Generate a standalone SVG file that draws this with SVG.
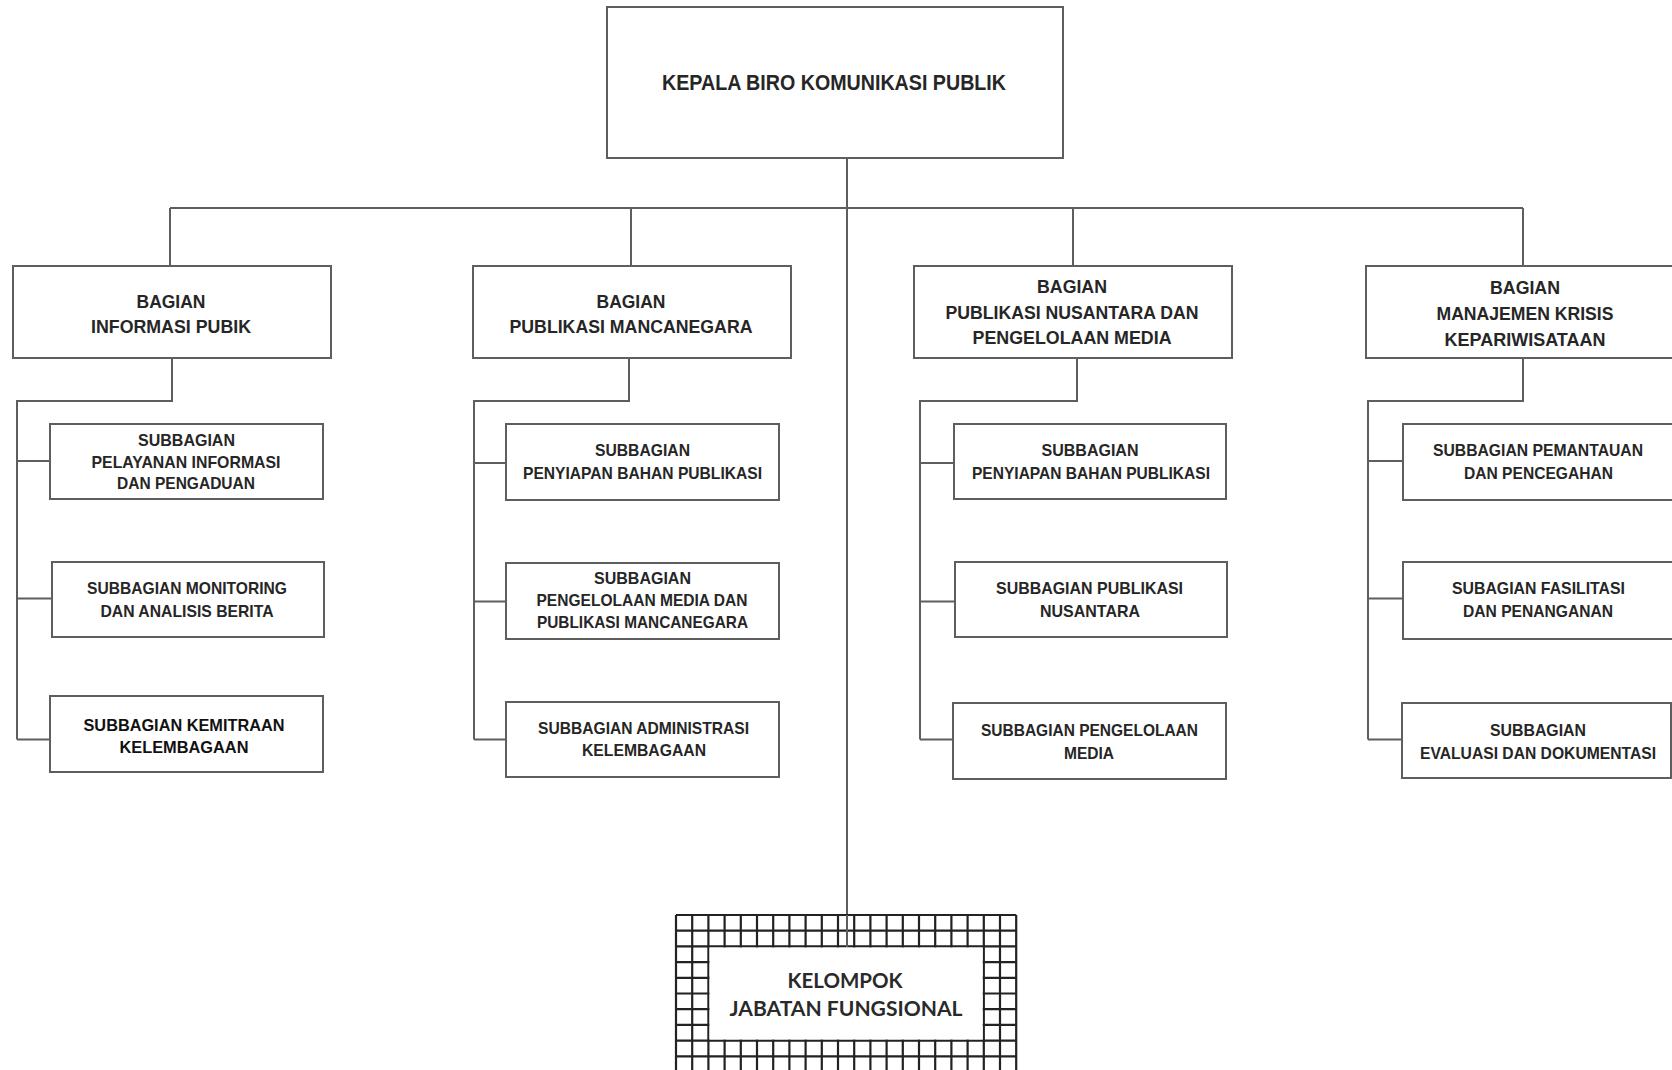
<svg xmlns="http://www.w3.org/2000/svg" width="1672" height="1070" viewBox="0 0 1672 1070">
  <style>
    .box { fill: #ffffff; stroke: #5e5e5e; stroke-width: 2; }
    .wire { fill: none; stroke: #5e5e5e; stroke-width: 2; }
    .grid { fill: none; stroke: #222222; stroke-width: 2.2; }
    .t { font-family: "Liberation Sans", Arial, sans-serif; font-weight: bold; fill: #262626; text-anchor: middle; }
    .title { font-size: 22px; }
    .head { font-size: 18.5px; }
    .sub { font-size: 17px; }
    .plain { font-size: 16.5px; fill: #111111; }
    .fg { font-family: Lato, "Open Sans", sans-serif; font-weight: bold; font-size: 20px; fill: #2a2a2a; text-anchor: middle; }
  </style>
  <rect width="1672" height="1070" fill="#ffffff"/>

  <!-- connectors -->
  <g id="connectors">
    <path class="wire" d="M847 158V947"/>
    <path class="wire" d="M170 208H1523M170 208V266M631 208V266M1073 208V266M1523 208V266"/>
    <path class="wire" d="M172 358V401H17V739.5M17 461H50M17 598.5H52M17 739.5H50"/>
    <path class="wire" d="M629 358V401H474V739.5M474 463H506M474 601.5H506M474 739.5H506"/>
    <path class="wire" d="M1077 358V401H920V739.5M920 463H954M920 601.5H955M920 739.5H953"/>
    <path class="wire" d="M1523 358V401H1368V739.5M1368 461H1403M1368 598.5H1403M1368 739.5H1402"/>
  </g>

  <!-- head of bureau -->
  <g id="kepala">
    <rect class="box" x="607" y="7" width="456" height="151"/>
    <text class="t title" x="834" y="90" textLength="344" lengthAdjust="spacingAndGlyphs">KEPALA BIRO KOMUNIKASI PUBLIK</text>
  </g>

  <!-- divisions -->
  <g id="bagian-informasi">
    <rect class="box" x="13" y="266" width="318" height="92"/>
    <text class="t head" x="171" y="307.5" textLength="69" lengthAdjust="spacingAndGlyphs">BAGIAN</text>
    <text class="t head" x="171" y="333" textLength="160" lengthAdjust="spacingAndGlyphs">INFORMASI PUBIK</text>
  </g>
  <g id="bagian-mancanegara">
    <rect class="box" x="473" y="266" width="318" height="92"/>
    <text class="t head" x="631" y="307.5" textLength="69" lengthAdjust="spacingAndGlyphs">BAGIAN</text>
    <text class="t head" x="631" y="333" textLength="243" lengthAdjust="spacingAndGlyphs">PUBLIKASI MANCANEGARA</text>
  </g>
  <g id="bagian-nusantara">
    <rect class="box" x="914" y="266" width="318" height="92"/>
    <text class="t head" x="1072" y="293" textLength="70" lengthAdjust="spacingAndGlyphs">BAGIAN</text>
    <text class="t head" x="1072" y="319" textLength="253" lengthAdjust="spacingAndGlyphs">PUBLIKASI NUSANTARA DAN</text>
    <text class="t head" x="1072" y="344" textLength="199" lengthAdjust="spacingAndGlyphs">PENGELOLAAN MEDIA</text>
  </g>
  <g id="bagian-krisis">
    <rect class="box" x="1366" y="266" width="320" height="92"/>
    <text class="t head" x="1525" y="294" textLength="70" lengthAdjust="spacingAndGlyphs">BAGIAN</text>
    <text class="t head" x="1525" y="320" textLength="177" lengthAdjust="spacingAndGlyphs">MANAJEMEN KRISIS</text>
    <text class="t head" x="1525" y="346" textLength="161" lengthAdjust="spacingAndGlyphs">KEPARIWISATAAN</text>
  </g>

  <!-- subdivisions: column 1 -->
  <g id="sub-pelayanan">
    <rect class="box" x="50" y="424" width="273" height="75"/>
    <text class="t sub" x="186.5" y="445.5" textLength="97" lengthAdjust="spacingAndGlyphs">SUBBAGIAN</text>
    <text class="t sub" x="186" y="468" textLength="189" lengthAdjust="spacingAndGlyphs">PELAYANAN INFORMASI</text>
    <text class="t sub" x="186" y="489" textLength="138" lengthAdjust="spacingAndGlyphs">DAN PENGADUAN</text>
  </g>
  <g id="sub-monitoring">
    <rect class="box" x="52" y="562" width="272" height="75"/>
    <text class="t sub" x="187" y="593.5" textLength="200" lengthAdjust="spacingAndGlyphs">SUBBAGIAN MONITORING</text>
    <text class="t sub" x="187" y="617" textLength="173" lengthAdjust="spacingAndGlyphs">DAN ANALISIS BERITA</text>
  </g>
  <g id="sub-kemitraan">
    <rect class="box" x="50" y="696" width="273" height="76"/>
    <text class="t plain" x="184" y="730.5" textLength="201" lengthAdjust="spacingAndGlyphs">SUBBAGIAN KEMITRAAN</text>
    <text class="t plain" x="184" y="753" textLength="129" lengthAdjust="spacingAndGlyphs">KELEMBAGAAN</text>
  </g>

  <!-- subdivisions: column 2 -->
  <g id="sub-penyiapan-1">
    <rect class="box" x="506" y="424" width="273" height="76"/>
    <text class="t sub" x="642.5" y="455.5" textLength="95" lengthAdjust="spacingAndGlyphs">SUBBAGIAN</text>
    <text class="t sub" x="642.5" y="479" textLength="239" lengthAdjust="spacingAndGlyphs">PENYIAPAN BAHAN PUBLIKASI</text>
  </g>
  <g id="sub-pengelolaan-mancanegara">
    <rect class="box" x="506" y="563" width="273" height="76"/>
    <text class="t sub" x="642.5" y="583.5" textLength="97" lengthAdjust="spacingAndGlyphs">SUBBAGIAN</text>
    <text class="t sub" x="642" y="605.5" textLength="211" lengthAdjust="spacingAndGlyphs">PENGELOLAAN MEDIA DAN</text>
    <text class="t sub" x="642.5" y="628" textLength="211" lengthAdjust="spacingAndGlyphs">PUBLIKASI MANCANEGARA</text>
  </g>
  <g id="sub-administrasi">
    <rect class="box" x="506" y="702" width="273" height="75"/>
    <text class="t sub" x="643.5" y="733.5" textLength="211" lengthAdjust="spacingAndGlyphs">SUBBAGIAN ADMINISTRASI</text>
    <text class="t sub" x="644" y="755.5" textLength="124" lengthAdjust="spacingAndGlyphs">KELEMBAGAAN</text>
  </g>

  <!-- subdivisions: column 3 -->
  <g id="sub-penyiapan-2">
    <rect class="box" x="954" y="424" width="272" height="75"/>
    <text class="t sub" x="1090" y="455.5" textLength="97" lengthAdjust="spacingAndGlyphs">SUBBAGIAN</text>
    <text class="t sub" x="1091" y="479" textLength="238" lengthAdjust="spacingAndGlyphs">PENYIAPAN BAHAN PUBLIKASI</text>
  </g>
  <g id="sub-publikasi-nusantara">
    <rect class="box" x="955" y="562" width="272" height="75"/>
    <text class="t sub" x="1089.5" y="593.5" textLength="187" lengthAdjust="spacingAndGlyphs">SUBBAGIAN PUBLIKASI</text>
    <text class="t sub" x="1090" y="617" textLength="100" lengthAdjust="spacingAndGlyphs">NUSANTARA</text>
  </g>
  <g id="sub-pengelolaan-media">
    <rect class="box" x="953" y="703" width="273" height="76"/>
    <text class="t sub" x="1089.5" y="735.5" textLength="217" lengthAdjust="spacingAndGlyphs">SUBBAGIAN PENGELOLAAN</text>
    <text class="t sub" x="1089" y="758.5" textLength="50" lengthAdjust="spacingAndGlyphs">MEDIA</text>
  </g>

  <!-- subdivisions: column 4 -->
  <g id="sub-pemantauan">
    <rect class="box" x="1403" y="424" width="275" height="76"/>
    <text class="t sub" x="1538" y="455.5" textLength="210" lengthAdjust="spacingAndGlyphs">SUBBAGIAN PEMANTAUAN</text>
    <text class="t sub" x="1538.5" y="479" textLength="149" lengthAdjust="spacingAndGlyphs">DAN PENCEGAHAN</text>
  </g>
  <g id="sub-fasilitasi">
    <rect class="box" x="1403" y="562" width="275" height="77"/>
    <text class="t sub" x="1538.5" y="593.5" textLength="173" lengthAdjust="spacingAndGlyphs">SUBAGIAN FASILITASI</text>
    <text class="t sub" x="1538" y="617" textLength="150" lengthAdjust="spacingAndGlyphs">DAN PENANGANAN</text>
  </g>
  <g id="sub-evaluasi">
    <rect class="box" x="1402" y="703" width="269" height="75"/>
    <text class="t sub" x="1538" y="736" textLength="96" lengthAdjust="spacingAndGlyphs">SUBBAGIAN</text>
    <text class="t sub" x="1538" y="759" textLength="236" lengthAdjust="spacingAndGlyphs">EVALUASI DAN DOKUMENTASI</text>
  </g>

  <!-- functional group: grid-bordered box -->
  <g id="kelompok-fungsional">
    <rect x="676" y="915" width="340.2" height="160" fill="#ffffff"/>
    <path class="grid" d="M676 915V1070M692.2 915V1070M708.4 915V1070M724.6 915V1070M740.8 915V1070M757 915V1070M773.2 915V1070M789.4 915V1070M805.6 915V1070M821.8 915V1070M838 915V1070M854.2 915V1070M870.4 915V1070M886.6 915V1070M902.8 915V1070M919 915V1070M935.2 915V1070M951.4 915V1070M967.6 915V1070M983.8 915V1070M1000 915V1070M1016.2 915V1070"/>
    <path class="grid" d="M676 915H1016.2M676 930.7H1016.2M676 946.4H1016.2M676 962.1H1016.2M676 977.8H1016.2M676 993.5H1016.2M676 1009.2H1016.2M676 1024.9H1016.2M676 1040.6H1016.2M676 1056.3H1016.2"/>
    <rect x="709.5" y="947.5" width="273.2" height="92" fill="#ffffff"/>
    <path class="wire" d="M847 915V947"/>
    <text class="fg" x="845" y="988" textLength="115" lengthAdjust="spacingAndGlyphs">KELOMPOK</text>
    <text class="fg" x="846" y="1016" textLength="233" lengthAdjust="spacingAndGlyphs">JABATAN FUNGSIONAL</text>
  </g>
</svg>
